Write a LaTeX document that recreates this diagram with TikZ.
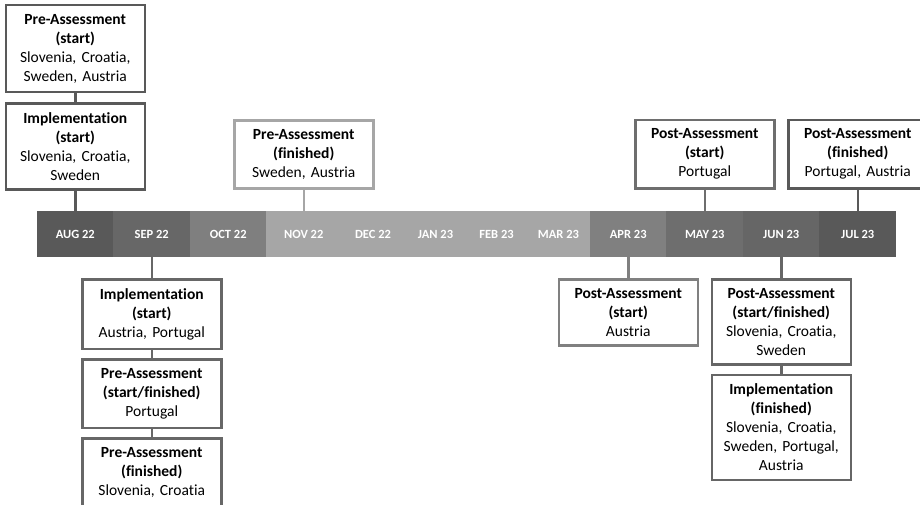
\documentclass[tikz,border=0pt]{standalone}
\usepackage{fontspec}
\setmainfont{Carlito}[Ligatures=NoCommon]
\frenchspacing
\usetikzlibrary{positioning}
\definecolor{augc}{HTML}{595959}
\definecolor{sepc}{HTML}{676767}
\definecolor{octc}{HTML}{7F7F7F}
\definecolor{midc}{HTML}{A6A6A6}
\definecolor{aprc}{HTML}{808080}
\definecolor{mayc}{HTML}{6E6E6E}
\definecolor{junc}{HTML}{666666}
\definecolor{julc}{HTML}{595959}
\tikzset{month/.style={rectangle, minimum height=46pt, inner sep=0pt, text=white, font=\bfseries\fontsize{12.5}{15}\selectfont},
         box/.style={rectangle, draw=#1, line width=2.5pt, fill=white, text width=129pt, inner xsep=5pt, inner ysep=9pt, align=center, font=\fontsize{15.5}{19}\selectfont},
         link/.style={draw=#1, line width=2.5pt}
}

\begin{document}
\begin{tikzpicture}[x=1pt, y=-1pt]
\useasboundingbox (0,0) rectangle (920,504);
% timeline bar
\foreach \m/\lab/\cx/\w/\col in {aug/AUG 22/75.25/77/augc, sep/SEP 22/151.75/77/sepc, oct/OCT 22/228.25/77/octc,
    nov/NOV 22/303.75/75/midc, dec/DEC 22/373/64.5/midc, jan/JAN 23/435.5/61.5/midc, feb/FEB 23/496.5/61.5/midc, mar/MAR 23/558.5/63.5/midc,
    apr/APR 23/628.25/77/aprc, may/MAY 23/704.75/77/mayc, jun/JUN 23/781.25/77/junc, jul/JUL 23/857.75/77/julc}
  \node[month, fill=\col, minimum width=\w pt] (\m) at (\cx,234) {\lab};

% above the bar
\node (implA) [box=augc, above=20pt of aug] {\textbf{Implementation}\\\textbf{(start)}\\Slovenia, Croatia,\\Sweden};
\node (preA) [box=augc, above=9pt of implA] {\textbf{Pre-Assessment}\\\textbf{(start)}\\Slovenia, Croatia,\\Sweden, Austria};
\node (preB) [box=midc, above=21pt of nov] {\textbf{Pre-Assessment}\\\textbf{(finished)}\\Sweden, Austria};
\node (postA) [box=mayc, above=21pt of may] {\textbf{Post-Assessment}\\\textbf{(start)}\\Portugal};
\node (postB) [box=julc, above=21pt of jul] {\textbf{Post-Assessment}\\\textbf{(finished)}\\Portugal, Austria};

% below the bar
\node (implB) [box=sepc, below=21pt of sep] {\textbf{Implementation}\\\textbf{(start)}\\Austria, Portugal};
\node (preC) [box=sepc, below=8pt of implB] {\textbf{Pre-Assessment}\\\textbf{(start/finished)}\\Portugal};
\node (preD) [box=sepc, below=8pt of preC] {\textbf{Pre-Assessment}\\\textbf{(finished)}\\Slovenia, Croatia};
\node (postC) [box=aprc, below=21pt of apr] {\textbf{Post-Assessment}\\\textbf{(start)}\\Austria};
\node (postD) [box=junc, below=21pt of jun] {\textbf{Post-Assessment}\\\textbf{(start/finished)}\\Slovenia, Croatia,\\Sweden};
\node (implC) [box=junc, below=8pt of postD] {\textbf{Implementation}\\\textbf{(finished)}\\Slovenia, Croatia,\\Sweden, Portugal,\\Austria};

\draw [link=augc] (preA) -- (implA);
\draw [link=augc] (implA) -- (aug);
\draw [link=midc] (preB) -- (nov);
\draw [link=mayc] (postA) -- (may);
\draw [link=julc] (postB) -- (jul);
\draw [link=sepc] (sep) -- (implB);
\draw [link=sepc] (implB) -- (preC);
\draw [link=sepc] (preC) -- (preD);
\draw [link=aprc] (apr) -- (postC);
\draw [link=junc] (jun) -- (postD);
\draw [link=junc] (postD) -- (implC);
\end{tikzpicture}
\end{document}
